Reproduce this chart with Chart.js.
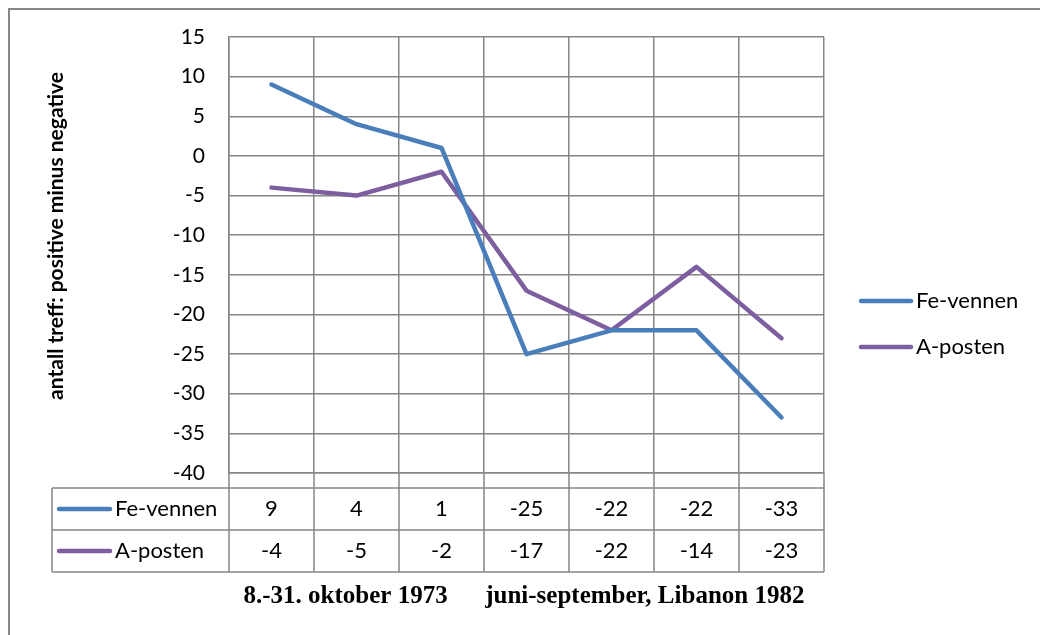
<!DOCTYPE html>
<html>
<head>
<meta charset="utf-8">
<script src="https://cdn.jsdelivr.net/npm/chart.js@4/dist/chart.umd.min.js"></script>
<style>
  html, body { margin: 0; padding: 0; background: #fff; }
  canvas { display: block; }
</style>
</head>
<body>
<canvas id="chart" width="1040" height="635"></canvas>
<script>
// data
const categories = ['1', '2', '3', '4', '5', '6', '7'];
const seriesNames = ['Fe-vennen', 'A-posten'];
const feVennen = [9, 4, 1, -25, -22, -22, -33];
const aPosten = [-4, -5, -2, -17, -22, -14, -23];
const yMin = -40;
const yMax = 15;
const yStep = 5;
const yTitle = 'antall treff: positive minus negative';
const xTitle = '8.-31. oktober 1973      juni-september, Libanon 1982';

const colors = ['#4a7ebb', '#7d5fa0'];
const gridColor = '#868686';
const font = 'Lato, "Open Sans", sans-serif';

// border, y title, data table, legend and x title
const extras = {
  id: 'extras',
  afterDraw(chart) {
    const ctx = chart.ctx;
    const area = chart.chartArea;
    const xs = chart.scales.x;
    const n = chart.data.labels.length;
    const half = (xs.getPixelForValue(1) - xs.getPixelForValue(0)) / 2;
    const tableLeft = 52;
    const rows = [area.bottom + 15, area.bottom + 57, area.bottom + 99];

    ctx.save();
    // outer frame
    ctx.strokeStyle = gridColor;
    ctx.lineWidth = 2;
    ctx.strokeRect(9, 9, 1100, 700);

    // table lines
    ctx.lineWidth = 1.5;
    ctx.beginPath();
    rows.forEach(y => { ctx.moveTo(tableLeft, y); ctx.lineTo(area.right, y); });
    ctx.moveTo(tableLeft, rows[0]); ctx.lineTo(tableLeft, rows[2]);
    for (let i = 0; i <= n; i++) {
      const x = xs.getPixelForValue(0) - half + i * half * 2;
      ctx.moveTo(x, area.bottom); ctx.lineTo(x, rows[2]);
    }
    ctx.stroke();

    // table content
    ctx.fillStyle = '#000';
    ctx.font = '22px ' + font;
    ctx.textBaseline = 'middle';
    chart.data.datasets.forEach((ds, r) => {
      const yc = (rows[r] + rows[r + 1]) / 2;
      ctx.strokeStyle = ds.borderColor;
      ctx.lineWidth = 4.5;
      ctx.lineCap = 'round';
      ctx.beginPath();
      ctx.moveTo(59, yc); ctx.lineTo(110, yc);
      ctx.stroke();
      ctx.textAlign = 'left';
      ctx.fillText(ds.label, 115, yc);
      ctx.textAlign = 'center';
      ds.data.forEach((v, i) => {
        ctx.fillText(String(v), xs.getPixelForValue(i), yc);
      });
    });

    // legend
    chart.data.datasets.forEach((ds, r) => {
      const yc = 301 + r * 46;
      ctx.strokeStyle = ds.borderColor;
      ctx.lineWidth = 4.5;
      ctx.lineCap = 'round';
      ctx.beginPath();
      ctx.moveTo(861, yc); ctx.lineTo(911, yc);
      ctx.stroke();
      ctx.textAlign = 'left';
      ctx.fillText(ds.label, 916, yc);
    });

    // x title
    ctx.font = 'bold 25px "Liberation Serif", "Times New Roman", serif';
    ctx.textAlign = 'center';
    ctx.fillText(xTitle, 524, 597);

    // y title
    ctx.translate(56, 236);
    ctx.rotate(-Math.PI / 2);
    ctx.font = 'bold 21px ' + font;
    ctx.fillText(yTitle, 0, 0);
    ctx.restore();
  }
};

new Chart(document.getElementById('chart'), {
  type: 'line',
  data: {
    labels: categories,
    datasets: [
      { label: seriesNames[0], data: feVennen, borderColor: colors[0], backgroundColor: colors[0] },
      { label: seriesNames[1], data: aPosten, borderColor: colors[1], backgroundColor: colors[1] }
    ]
  },
  options: {
    responsive: false,
    devicePixelRatio: 1,
    animation: false,
    layout: { padding: { left: 0, top: 37, right: 216, bottom: 162 } },
    elements: {
      line: { borderWidth: 4.5, tension: 0, borderCapStyle: 'round', borderJoinStyle: 'round' },
      point: { radius: 0 }
    },
    plugins: {
      legend: { display: false },
      tooltip: { enabled: false }
    },
    scales: {
      x: {
        offset: true,
        grid: { offset: true, color: gridColor, lineWidth: 1.5, drawTicks: false },
        border: { color: gridColor, width: 1.5 },
        ticks: { display: false },
        afterFit(scale) { scale.height = 0; }
      },
      y: {
        min: yMin,
        max: yMax,
        ticks: { stepSize: yStep, color: '#000', padding: 24, font: { family: font, size: 21 } },
        grid: { color: gridColor, lineWidth: 1.5, drawTicks: false },
        border: { color: gridColor, width: 1.5 },
        afterFit(scale) { scale.width = 229; }
      }
    }
  },
  plugins: [extras]
});
</script>
</body>
</html>
